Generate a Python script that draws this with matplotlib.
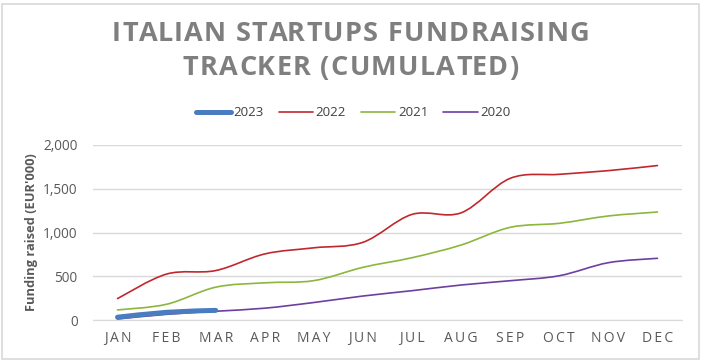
import matplotlib
matplotlib.use("Agg")
import matplotlib.pyplot as plt
from matplotlib.path import Path
from matplotlib.patches import PathPatch, Rectangle
from matplotlib.lines import Line2D
from matplotlib.font_manager import FontProperties
import numpy as np

plt.rcParams['font.family'] = ['Open Sans', 'DejaVu Sans']

months = ["JAN", "FEB", "MAR", "APR", "MAY", "JUN", "JUL", "AUG", "SEP", "OCT", "NOV", "DEC"]
y2023 = [32, 88, 110]
y2022 = [245, 525, 565, 755, 825, 888, 1207, 1225, 1619, 1665, 1707, 1765]
y2021 = [115, 180, 375, 425, 450, 602, 712, 857, 1059, 1105, 1189, 1234]
y2020 = [12, 65, 100, 135, 200, 274, 335, 400, 449, 506, 655, 705]
yticks = [0, 500, 1000, 1500, 2000]
series_names = ["2023", "2022", "2021", "2020"]
title_lines = ["ITALIAN STARTUPS FUNDRAISING", "TRACKER (CUMULATED)"]
colors = ["#4a7cc0", "#c0282d", "#8cb63c", "#6d3fa0"]
widths = [3.6, 1.2, 1.2, 1.2]

W, H = 704, 362
fig = plt.figure(figsize=(W / 100, H / 100), dpi=100)
ax = fig.add_axes([93 / W, 1 - 320 / H, (682 - 93) / W, (320 - 145) / H])


def smooth_path(xs, ys):
    pts = np.column_stack([xs, ys]).astype(float)
    n = len(pts)
    verts = [pts[0]]
    codes = [Path.MOVETO]
    for i in range(n - 1):
        p0 = pts[i - 1] if i > 0 else pts[i]
        p1 = pts[i]
        p2 = pts[i + 1]
        p3 = pts[i + 2] if i + 2 < n else pts[i + 1]
        c1 = p1 + (p2 - p0) / 6.0
        c2 = p2 - (p3 - p1) / 6.0
        verts += [c1, c2, p2]
        codes += [Path.CURVE4] * 3
    return Path(verts, codes)


data = [y2023, y2022, y2021, y2020]
for idx in [3, 2, 1, 0]:
    vals = data[idx]
    xs = np.arange(len(vals))
    patch = PathPatch(smooth_path(xs, vals), facecolor="none", edgecolor=colors[idx],
                      lw=widths[idx], capstyle="round", joinstyle="round", zorder=3 + (3 - idx))
    ax.add_patch(patch)

ax.set_xlim(-0.5, 11.5)
ax.set_ylim(0, 2000)
ax.set_yticks(yticks)
ax.set_yticklabels([f"{v:,}" for v in yticks], fontsize=9.8, color="#595959")
ax.set_xticks(range(len(months)))
ax.set_xticklabels(["\u2009".join(m) for m in months], fontsize=10, color="#595959")
ax.tick_params(length=0, pad=8)
ax.tick_params(axis="y", pad=11)
ax.grid(axis="y", color="#d9d9d9", lw=1)
ax.set_axisbelow(True)
for s in ["top", "right", "left"]:
    ax.spines[s].set_visible(False)
ax.spines["bottom"].set_color("#d9d9d9")
ax.set_ylabel("Funding raised (EUR'000)", fontsize=9.3, fontweight="bold", color="#595959")
ax.yaxis.set_label_coords(-0.094, 0.5)

# Title with letter tracking
renderer = fig.canvas.get_renderer()
fp = FontProperties(family=['Open Sans', 'DejaVu Sans'], weight="bold", size=19.5)
track = 1.3  # px between letters
cx = 0.498 * W
for k, line in enumerate(title_lines):
    yline = 1 - (34 + 34 * k) / H
    full_w = renderer.get_text_width_height_descent(line, fp, ismath=False)[0]
    total = full_w + track * (len(line) - 1)
    x0 = cx - total / 2
    for i, ch in enumerate(line):
        if ch == " ":
            continue
        pre_w = renderer.get_text_width_height_descent(line[:i], fp, ismath=False)[0] if i else 0
        fig.text((x0 + pre_w + i * track) / W, yline, ch, ha="left", va="center",
                 fontproperties=fp, color="#7f7f7f")

handles = [Line2D([0], [0], color=c, lw=w, solid_capstyle="round") for c, w in zip(colors, widths)]
fig.legend(handles, series_names, loc="center", bbox_to_anchor=(0.502, 1 - 113 / H), ncol=4,
           frameon=False, fontsize=9.5, handlelength=2.6, handletextpad=0.2, columnspacing=1.15,
           labelcolor="#404040")

fig.patches.append(Rectangle((2 / W, 3 / H), 697 / W, 355 / H, transform=fig.transFigure,
                             facecolor="none", edgecolor="#d9d9d9", lw=1.2))

fig.savefig("out.png", dpi=100)
